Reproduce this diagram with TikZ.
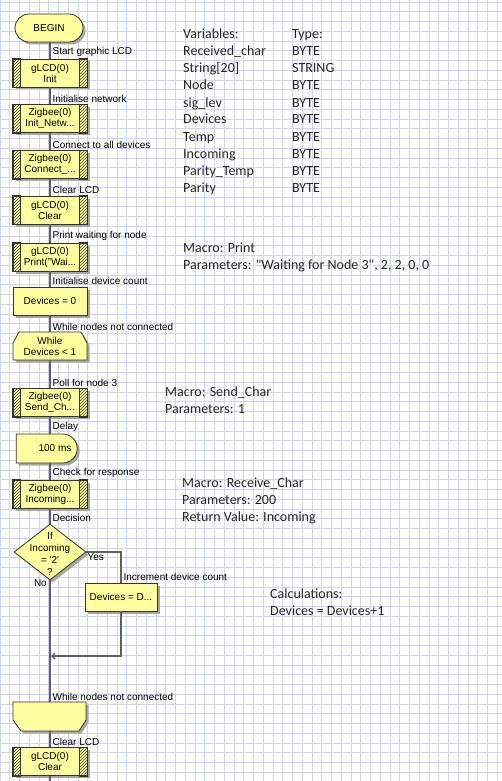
\documentclass[tikz,border=0pt]{standalone}
\usepackage{fontspec}
\setmainfont{Liberation Sans}
\newfontfamily\notefont{Carlito}
\usetikzlibrary{shapes.geometric,shapes.misc,shadows,patterns,arrows.meta}
\definecolor{iconfill}{RGB}{255,255,160}
\definecolor{gridblue}{RGB}{206,214,238}
\definecolor{flowgray}{RGB}{96,96,96}
\newcommand\chartfont{\fontsize{10}{11}\selectfont}
\newcommand\notesize{\notefont\fontsize{14}{17}\selectfont}

\begin{document}
\begin{tikzpicture}[
    x=1pt, y=-1pt, >={Straight Barb[length=3pt,width=6pt]},
    gridline/.style={gridblue, line width=0.6pt},
    flow/.style={flowgray, line width=1.3pt},
    iconshadow/.style={drop shadow={shadow xshift=2.5pt, shadow yshift=-2.5pt, fill=black!35, opacity=1}},
    icon/.style={draw=black!80, line width=0.8pt, fill=iconfill, iconshadow, font=\chartfont, align=center, inner sep=1pt},
    terminal/.style={icon, rounded rectangle, minimum width=70pt, minimum height=28pt},
    calcbox/.style={icon, rectangle, minimum width=74pt, minimum height=28pt},
    delaybox/.style={icon, rounded rectangle, rounded rectangle left arc=none, minimum width=63pt, minimum height=29pt},
    decision/.style={icon, diamond, minimum width=72pt, minimum height=56pt, inner sep=0pt},
    loopshape/.style={draw=black!80, line width=0.8pt, fill=iconfill, iconshadow},
    looptext/.style={minimum width=74pt, minimum height=28pt, font=\chartfont, align=center, inner sep=1pt},
    hatchbar/.style={draw=black!80, line width=0.8pt, pattern=north east lines, pattern color=black!75},
    steplbl/.style={anchor=south west, inner sep=1pt, xshift=1pt, font=\chartfont, text=black},
    note/.style={anchor=base west, inner sep=0pt, font=\notesize, text=black!85}
  ]
  % paper
  \fill[white] (0,0) rectangle (502,781);
  \useasboundingbox (0,0) rectangle (502,781);
  \foreach \gx in {0,9.75,...,502}
    \draw[gridline] (\gx,0) -- (\gx,781);
  \foreach \gy in {2,11.75,...,781}
    \draw[gridline] (0,\gy) -- (502,\gy);

  % flowchart icons
  \coordinate (spine) at (50,0);
  \node[terminal] (begin) at (49,28) {BEGIN};
  \node[calcbox] (lcdinit) at (50,73) {gLCD(0)\\Init};
  \node[calcbox] (zbinit) at (50,118.5) {Zigbee(0)\\Init\_Netw...};
  \node[calcbox] (zbconn) at (50,164.5) {Zigbee(0)\\Connect\_...};
  \node[calcbox] (lcdclr) at (50,210) {gLCD(0)\\Clear};
  \node[calcbox] (lcdprint) at (50,257) {gLCD(0)\\Print("Wai...};
  \node[calcbox] (devzero) at (50,301) {Devices = 0};
  \filldraw[loopshape] (19,332) -- (81,332) -- (87,343) -- (87,360) -- (13,360) -- (13,343) -- cycle;
  \node[looptext] (whilehead) at (50,346) {While\\Devices < 1};
  \node[calcbox] (zbsend) at (50,402.5) {Zigbee(0)\\Send\_Ch...};
  \node[delaybox] (delay) at (46.5,448.5) {\hspace*{17pt}100 ms};
  \node[calcbox] (zbrecv) at (50,494) {Zigbee(0)\\Incoming...};
  \node[decision] (decide) at (50,552) {};
  \node[font=\fontsize{10}{12}\selectfont, align=center, inner sep=0pt] (decidetext) at (50,554)
    {If\\Incoming\\= \textquotesingle 2\textquotesingle\\?};
  \node[calcbox, minimum width=72pt] (incbox) at (121,597) {Devices = D...};
  \filldraw[loopshape] (13,702) -- (86,702) -- (86,720) -- (79,731) -- (21,731) -- (13,720) -- cycle;
  \node[looptext] (whileend) at (50,716.5) {};
  \node[calcbox] (lcdclr2) at (50,761.5) {gLCD(0)\\Clear};
  \foreach \n in {lcdinit,zbinit,zbconn,lcdclr,lcdprint,zbsend,zbrecv,lcdclr2} {
    \filldraw[hatchbar] (\n.north west) rectangle ([xshift=8pt]\n.south west);
    \filldraw[hatchbar] ([xshift=-8pt]\n.north east) rectangle (\n.south east);
  }

  % connectors
  \foreach \a/\b/\txt in {begin/lcdinit/Start graphic LCD, lcdinit/zbinit/Initialise network,
      zbinit/zbconn/Connect to all devices, zbconn/lcdclr/Clear LCD,
      lcdclr/lcdprint/Print waiting for node, lcdprint/devzero/Initialise device count,
      devzero/whilehead/While nodes not connected, whilehead/zbsend/Poll for node 3,
      zbsend/delay/Delay, delay/zbrecv/Check for response, zbrecv/decide/Decision,
      decide/whileend/While nodes not connected, whileend/lcdclr2/Clear LCD}
    \draw[flow] (spine |- \a.south) -- node[steplbl, pos=1] (lbl\b) {\txt} (spine |- \b.north);
  \coordinate (merge) at (51,656);
  \coordinate (flowend) at (50,781);
  \draw[flow] (decide.east) -| node[steplbl, pos=1] (lblincbox) {Increment device count} (incbox.north);
  \draw[flow, ->] (incbox.south) |- (merge);
  \draw[flow] (lcdclr2.south) -- (flowend);
  \node[anchor=north west, inner sep=1pt, font=\chartfont] (yeslbl) at (decide.east) {Yes};
  \node[anchor=north east, inner sep=1pt, font=\chartfont] (nolbl) at ([xshift=-2pt,yshift=2pt]decide.south) {No};

  % notes
  \foreach \v/\t [count=\i from 0] in {Variables:/Type:, Received\_char/BYTE, String[20]/STRING,
      Node/BYTE, sig\_lev/BYTE, Devices/BYTE, Temp/BYTE, Incoming/BYTE, Parity\_Temp/BYTE, Parity/BYTE} {
    \node[note] (var\i) at (183,39+17*\i) {\v};
    \node[note] (type\i) at (292,39+17*\i) {\t};
  }
  \node[note] (printmacro) at (183,252) {Macro: Print};
  \node[note] (printparams) at (183,269) {Parameters: "Waiting for Node 3", 2, 2, 0, 0};
  \node[note] (sendmacro) at (165,396) {Macro: Send\_Char};
  \node[note] (sendparams) at (165,413) {Parameters: 1};
  \node[note] (recvmacro) at (182,487) {Macro: Receive\_Char};
  \node[note] (recvparams) at (182,504) {Parameters: 200};
  \node[note] (recvreturn) at (182,521) {Return Value: Incoming};
  \node[note] (calchead) at (270,598) {Calculations:};
  \node[note] (calcline) at (270,615) {Devices = Devices+1};
\end{tikzpicture}
\end{document}
